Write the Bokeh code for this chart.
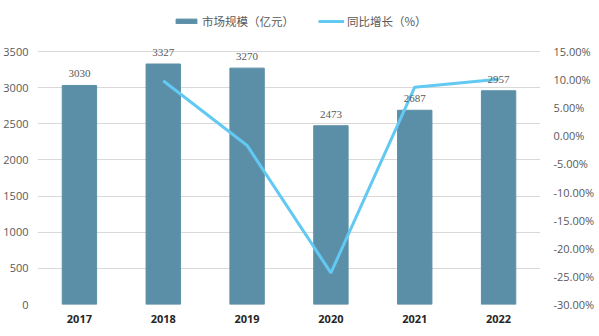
from bokeh.plotting import figure
from bokeh.models import (ColumnDataSource, LinearAxis, Range1d, FactorRange, LabelSet,
                          NumeralTickFormatter, FixedTicker, Legend, LegendItem)
from bokeh.embed import file_html
from bokeh.resources import INLINE

years = ["2017", "2018", "2019", "2020", "2021", "2022"]
market = [3030, 3327, 3270, 2473, 2687, 2957]
growth_years = ["2018", "2019", "2020", "2021", "2022"]
growth = [0.098, -0.0171, -0.2437, 0.0865, 0.1005]
left_ticks = [0, 500, 1000, 1500, 2000, 2500, 3000, 3500]
right_ticks = [-0.30, -0.25, -0.20, -0.15, -0.10, -0.05, 0.0, 0.05, 0.10, 0.15]

# layout geometry (pixels)
W, H = 599, 336
B_LEFT, B_RIGHT, B_BOTTOM = 37, 59, 32
FRAME_H = H - B_BOTTOM          # frame spans from top of canvas to the x axis
AXIS_TOP_PX = 51                # where the 3500 / 15% gridline sits
scale = FRAME_H / (FRAME_H - AXIS_TOP_PX)

left_lo, left_hi = 0, 3500
right_lo, right_hi = -0.30, 0.15

bar_src = ColumnDataSource(dict(x=years, y=market, lab=[str(v) for v in market]))
line_src = ColumnDataSource(dict(x=growth_years, y=growth))

p = figure(width=W, height=H, x_range=FactorRange(*years, range_padding=0.0),
           y_range=Range1d(left_lo, left_lo + (left_hi - left_lo) * scale),
           output_backend="svg", toolbar_location=None,
           min_border_left=B_LEFT, min_border_right=B_RIGHT, min_border_top=0,
           min_border_bottom=B_BOTTOM)
p.outline_line_color = None
p.background_fill_color = "white"
p.border_fill_color = "white"

p.extra_y_ranges = {"pct": Range1d(right_lo, right_lo + (right_hi - right_lo) * scale)}

bars = p.vbar(x="x", top="y", width=0.41, source=bar_src, color="#5B8FA7")
line = p.line(x="x", y="y", source=line_src, y_range_name="pct", color="#62C9F3", line_width=3)

labels = LabelSet(x="x", y="y", text="lab", source=bar_src, y_offset=8,
                  text_align="center", text_baseline="bottom", text_font_size="11px",
                  text_color="#595959", text_font="Open Sans")
p.add_layout(labels)

ax_r = LinearAxis(y_range_name="pct", ticker=FixedTicker(ticks=right_ticks),
                  formatter=NumeralTickFormatter(format="0.00%"))
p.add_layout(ax_r, "right")

for ax in [p.yaxis[0], ax_r]:
    ax.axis_line_color = None
    ax.major_tick_line_color = None
    ax.minor_tick_line_color = None
    ax.major_tick_out = 0
    ax.minor_tick_out = 0
    ax.major_label_text_font_size = "11px"
    ax.major_label_text_color = "#595959"
    ax.major_label_text_font = "Open Sans"
p.yaxis[0].ticker = FixedTicker(ticks=left_ticks)
p.yaxis[0].major_label_standoff = 9
ax_r.major_label_standoff = 13

p.xaxis.axis_line_color = None
p.xaxis.major_tick_line_color = None
p.xaxis.major_tick_out = 0
p.xaxis.major_label_text_font_size = "11px"
p.xaxis.major_label_text_font_style = "bold"
p.xaxis.major_label_text_color = "#262626"
p.xaxis.major_label_text_font = "Open Sans"
p.xaxis.major_label_standoff = 10

p.xgrid.grid_line_color = None
p.ygrid.grid_line_color = "#D9D9D9"

legend = Legend(items=[LegendItem(label="市场规模（亿元）", renderers=[bars]),
                       LegendItem(label="同比增长（%）", renderers=[line])],
                orientation="horizontal", location=(173 - B_LEFT, FRAME_H - 29),
                label_text_font="Noto Sans CJK SC", label_text_font_size="11.5px",
                label_text_color="#595959", border_line_color=None,
                background_fill_alpha=0, padding=0, spacing=24, margin=0,
                glyph_width=26, glyph_height=6, label_standoff=3, label_height=14)
p.add_layout(legend)

open("out.html", "w").write(file_html(p, INLINE))
